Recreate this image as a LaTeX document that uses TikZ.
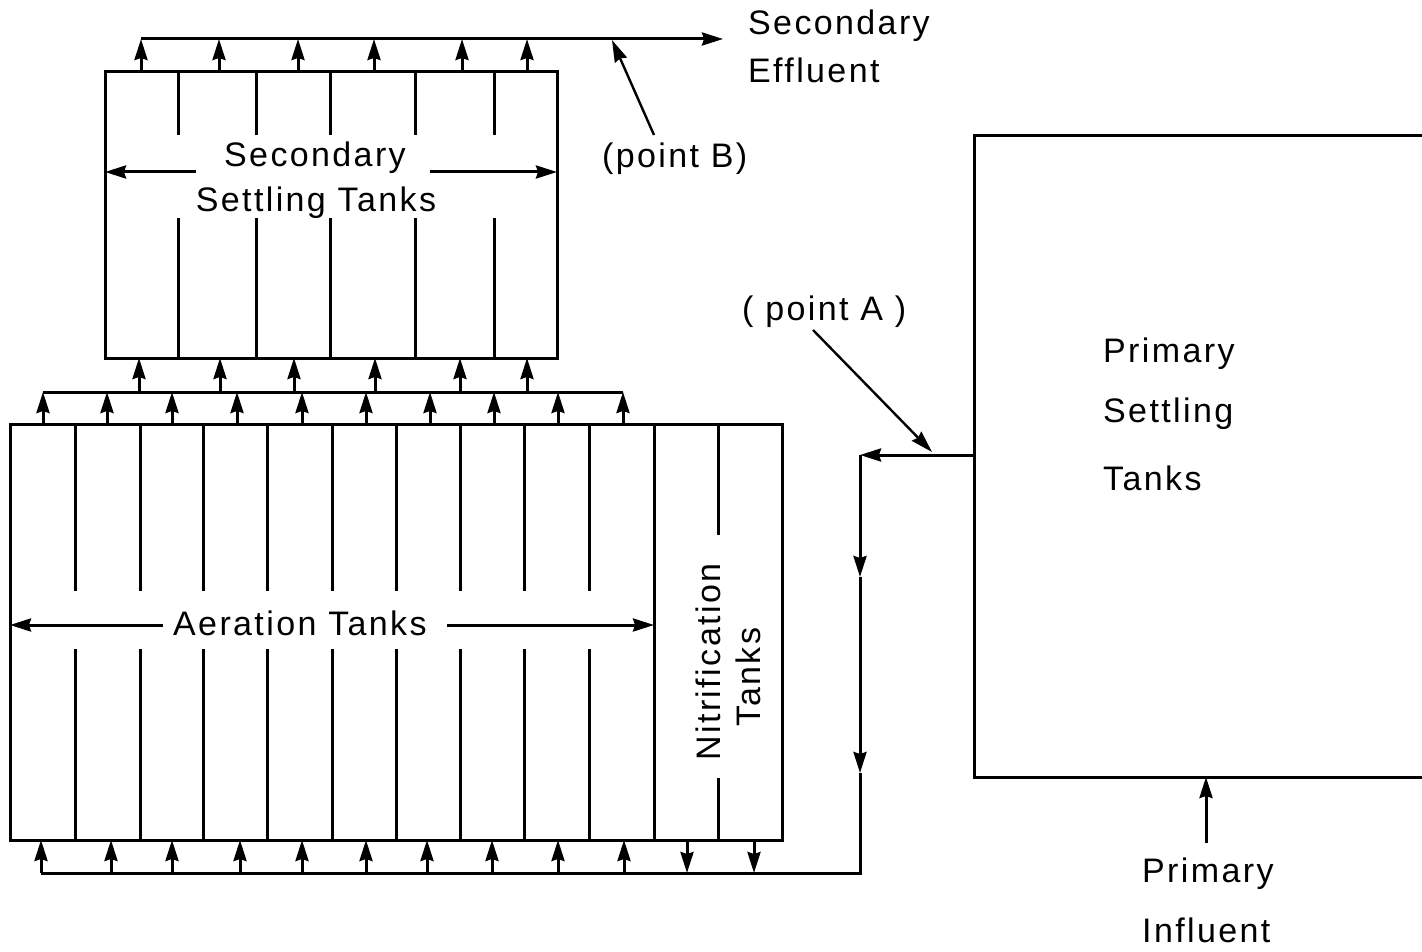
\documentclass[tikz,border=0pt]{standalone}
\usepackage{fontspec}
\setmainfont{Liberation Sans}[LetterSpace=7,Ligatures=NoCommon]
\usetikzlibrary{arrows.meta}
\begin{document}
\begin{tikzpicture}[x=1pt,y=-1pt,
  ln/.style={line width=3pt},
  box/.style={draw,line width=3pt,inner sep=0pt,outer sep=0pt,anchor=north west},
  arr/.style={ln,-{Stealth[length=21pt,width=13pt,inset=2pt]}},
  ptr/.style={line width=2.4pt,-{Stealth[length=22pt,width=13pt,inset=2pt]}},
  lbl/.style={inner sep=0pt,font=\fontsize{34}{40}\selectfont}]
\useasboundingbox (0,0) rectangle (1422,952);

% ---- boxes
\node[box,minimum width=452pt,minimum height=286pt] (sec) at (105,72) {};
\node[box,minimum width=772pt,minimum height=416pt] (aer) at (10,424) {};
\coordinate (pTL) at (974,136);
\coordinate (pBL) at (974,777);
\coordinate (pTR) at (1430,136);
\coordinate (pBR) at (1430,777);
\draw[ln] (pTR) -- (pTL) -- (pBL) -- (pBR);

% ---- dividers in secondary settling tanks
\foreach \x in {178,256,330,415,494}{
  \draw[ln] (\x,0 |- sec.north) -- (\x,135);
  \draw[ln] (\x,218) -- (\x,0 |- sec.south);
}
% ---- dividers in aeration tanks
\foreach \x in {75,140,203,267,332,396,460,524,589}{
  \draw[ln] (\x,0 |- aer.north) -- (\x,591);
  \draw[ln] (\x,649) -- (\x,0 |- aer.south);
}
\draw[ln] (654,0 |- aer.north) -- (654,0 |- aer.south);
\draw[ln] (718,0 |- aer.north) -- (718,535);
\draw[ln] (718,778) -- (718,0 |- aer.south);

% ---- labels
\node[lbl,anchor=base] (ssl1) at (315,167) {Secondary};
\node[lbl,anchor=base] (ssl2) at (316,212) {Settling Tanks};
\coordinate (sslL) at (196,172);
\coordinate (sslR) at (430,172);
\draw[arr] (sslL) -- (sslL -| sec.west);
\draw[arr] (sslR) -- (sslR -| sec.east);

\node[lbl,anchor=base west] (aerl) at (173,635) {Aeration Tanks};
\coordinate (aerL) at (163,625);
\coordinate (aerR) at (447,625);
\coordinate (wallR) at (654,625);
\draw[arr] (aerL) -- (aerL -| aer.west);
\draw[arr] (aerR) -- (wallR);

\node[lbl,anchor=base,rotate=90] (nit1) at (720,662) {Nitrification};
\node[lbl,anchor=base,rotate=90] (nit2) at (760,677) {Tanks};

\node[lbl,anchor=base west] (se1) at (748,35) {Secondary};
\node[lbl,anchor=base west] (se2) at (748,83) {Effluent};
\node[lbl,anchor=base west] (ptB) at (602,168) {(point B)};
\node[lbl,anchor=base west] (ptA) at (742,320) {( point A )};
\node[lbl,anchor=base west] (ps1) at (1103,362) {Primary};
\node[lbl,anchor=base west] (ps2) at (1103,422) {Settling};
\node[lbl,anchor=base west] (ps3) at (1103,490) {Tanks};
\node[lbl,anchor=base west] (pi1) at (1142,882) {Primary};
\node[lbl,anchor=base west] (pi2) at (1142,942) {Influent};

% ---- top effluent manifold
\coordinate (topL) at (141,39);
\coordinate (eff) at (723,39);
\draw[arr] (topL) -- (eff);
\foreach \x in {141,219,298,374,462,527}
  \draw[arr] (\x,0 |- sec.north) -- (\x,0 |- topL);

% ---- middle manifold
\coordinate (midL) at (43,392);
\coordinate (midR) at (623,392);
\draw[ln] (midL) -- (midR);
\foreach \x in {139,220,294,375,460,527}
  \draw[arr] (\x,0 |- midL) -- (\x,0 |- sec.south);
\foreach \x in {43,107,172,237,302,366,430,494,558,623}
  \draw[arr] (\x,0 |- aer.north) -- (\x,0 |- midL);

% ---- return line from primary tanks
\coordinate (pA) at (974,455);
\coordinate (retTop) at (860,455);
\coordinate (r1) at (860,577);
\coordinate (r2) at (860,773);
\coordinate (botR) at (860,873);
\coordinate (botL) at (41,873);
\draw[arr] (pA) -- (retTop);
\draw[arr] (retTop) -- (r1);
\draw[arr] (r1) -- (r2);
\draw[ln] (r2) -- (botR) -- (botL);
\foreach \x in {41,111,172,240,302,366,427,492,558,624}
  \draw[arr] (\x,0 |- botL) -- (\x,0 |- aer.south);
\foreach \x in {687,754}
  \draw[arr] (\x,0 |- aer.south) -- (\x,0 |- botL);

% ---- primary influent
\coordinate (inf) at (1206,843);
\draw[arr] (inf) -- (inf |- pBL);

% ---- pointers
\coordinate (pAs) at (813,330);
\coordinate (pAe) at (932,452);
\draw[ptr] (pAs) -- (pAe);
\coordinate (pBs) at (654,135);
\coordinate (pBe) at (612,40);
\draw[ptr] (pBs) -- (pBe);
\end{tikzpicture}
\end{document}
